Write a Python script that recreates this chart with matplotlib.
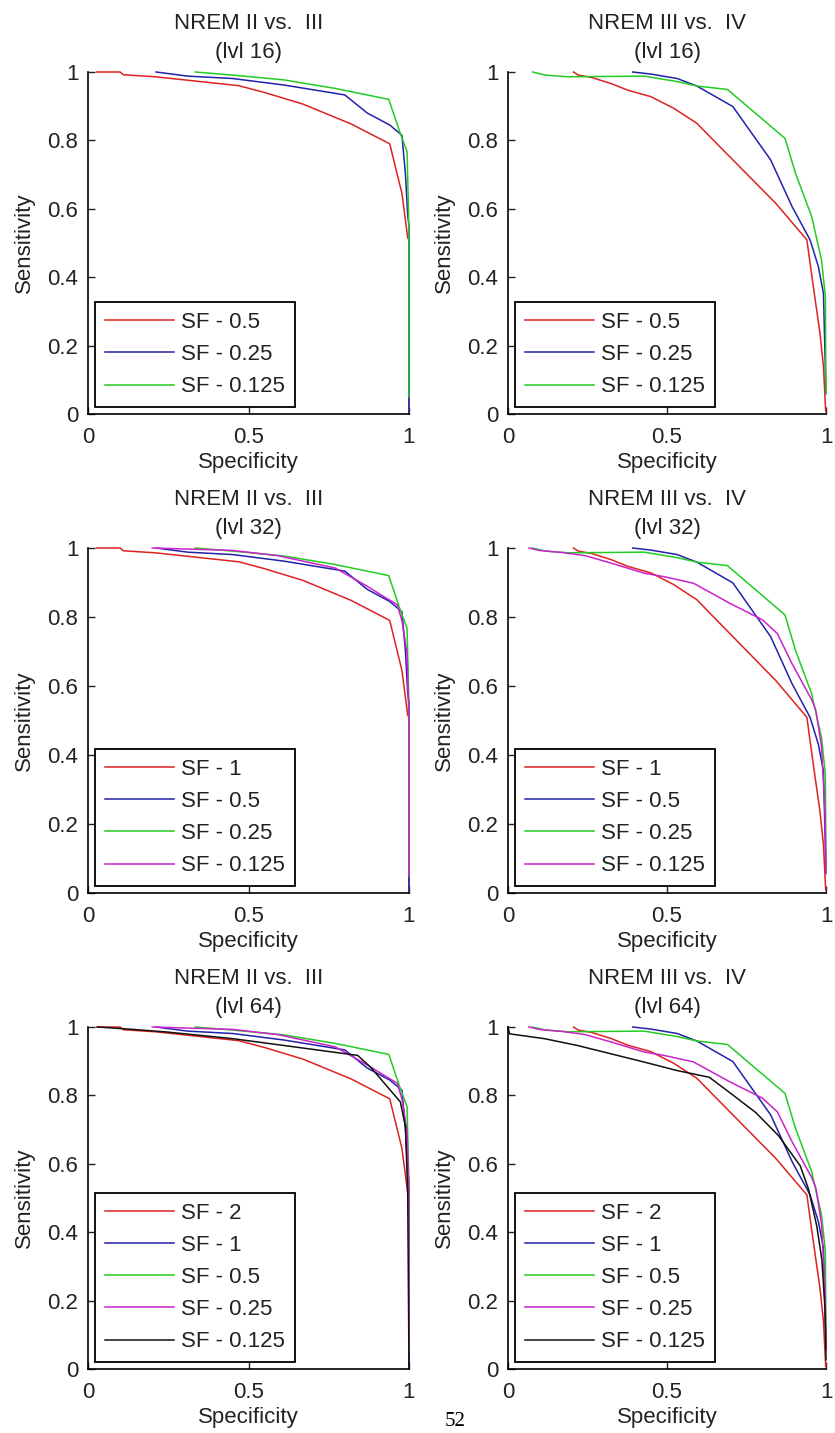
import matplotlib
matplotlib.use("Agg")
import matplotlib.pyplot as plt

plt.rcParams['font.family'] = ['Liberation Sans', 'DejaVu Sans']

# ---------------- data ----------------
# NREM II vs. III curves (specificity, sensitivity)
II_red_x = [0.027, 0.10, 0.11, 0.21, 0.35, 0.47, 0.55, 0.67, 0.82, 0.94, 0.978, 0.996, 1.0, 1.0]
II_red_y = [1.0, 1.0, 0.992, 0.986, 0.972, 0.960, 0.940, 0.906, 0.848, 0.790, 0.645, 0.515, 0.51, 0.0]
II_blue_x = [0.212, 0.31, 0.45, 0.61, 0.80, 0.87, 0.94, 0.978, 0.989, 0.996, 1.0, 1.0]
II_blue_y = [1.0, 0.988, 0.981, 0.962, 0.933, 0.880, 0.845, 0.815, 0.70, 0.58, 0.55, 0.0]
II_green_x = [0.334, 0.45, 0.61, 0.77, 0.937, 0.973, 0.994, 1.0, 1.0]
II_green_y = [1.0, 0.991, 0.977, 0.952, 0.920, 0.820, 0.767, 0.53, 0.05]
II_mag_x = [0.20, 0.45, 0.59, 0.77, 0.87, 0.92, 0.963, 0.978, 0.994, 1.0, 1.0]
II_mag_y = [1.0, 0.993, 0.978, 0.942, 0.889, 0.860, 0.836, 0.79, 0.695, 0.5, 0.05]
II_blk_x = [0.03, 0.14, 0.25, 0.45, 0.61, 0.84, 0.88, 0.973, 0.989, 0.996, 1.0]
II_blk_y = [1.0, 0.993, 0.985, 0.966, 0.946, 0.917, 0.883, 0.781, 0.708, 0.513, 0.0]

# NREM III vs. IV curves
III_red_x = [0.206, 0.221, 0.263, 0.325, 0.376, 0.449, 0.521, 0.594, 0.635, 0.738, 0.842, 0.94, 0.95, 0.966, 0.981, 0.992, 0.999]
III_red_y = [1.0, 0.991, 0.984, 0.966, 0.947, 0.928, 0.894, 0.850, 0.811, 0.714, 0.616, 0.509, 0.44, 0.334, 0.237, 0.139, 0.008]
III_blue_x = [0.392, 0.449, 0.532, 0.594, 0.707, 0.826, 0.893, 0.95, 0.976, 0.992, 1.0]
III_blue_y = [1.0, 0.994, 0.981, 0.959, 0.899, 0.743, 0.607, 0.509, 0.431, 0.353, 0.06]
III_green_x = [0.077, 0.118, 0.19, 0.428, 0.532, 0.594, 0.69, 0.871, 0.904, 0.955, 0.986, 0.998, 1.0]
III_green_y = [1.0, 0.991, 0.986, 0.988, 0.972, 0.959, 0.949, 0.806, 0.704, 0.577, 0.45, 0.344, 0.06]
III_mag_x = [0.066, 0.097, 0.17, 0.242, 0.325, 0.428, 0.49, 0.583, 0.697, 0.80, 0.847, 0.893, 0.955, 0.968, 0.986, 0.997, 1.0]
III_mag_y = [1.0, 0.993, 0.987, 0.978, 0.956, 0.927, 0.917, 0.898, 0.84, 0.792, 0.752, 0.665, 0.56, 0.53, 0.424, 0.23, 0.056]
III_blk_x = [0.0, 0.005, 0.114, 0.218, 0.322, 0.426, 0.53, 0.633, 0.696, 0.779, 0.851, 0.919, 0.945, 0.971, 0.987, 0.997, 1.0]
III_blk_y = [1.0, 0.98, 0.966, 0.946, 0.922, 0.898, 0.873, 0.853, 0.809, 0.75, 0.682, 0.594, 0.526, 0.418, 0.32, 0.174, 0.027]

titles = ["NREM II vs.  III\n(lvl 16)", "NREM III vs.  IV\n(lvl 16)",
          "NREM II vs.  III\n(lvl 32)", "NREM III vs.  IV\n(lvl 32)",
          "NREM II vs.  III\n(lvl 64)", "NREM III vs.  IV\n(lvl 64)"]
labels_16 = ["SF - 0.5", "SF - 0.25", "SF - 0.125"]
labels_32 = ["SF - 1", "SF - 0.5", "SF - 0.25", "SF - 0.125"]
labels_64 = ["SF - 2", "SF - 1", "SF - 0.5", "SF - 0.25", "SF - 0.125"]
colors = ['#dd2222', '#2222aa', '#22cc22', '#cc22cc', '#111111']
x_ticks = [0, 0.5, 1]
x_ticklabels = ["0", "0.5", "1"]
y_ticks = [0, 0.2, 0.4, 0.6, 0.8, 1]
y_ticklabels = ["0", "0.2", "0.4", "0.6", "0.8", "1"]

II_curves = [(II_red_x, II_red_y), (II_blue_x, II_blue_y), (II_green_x, II_green_y),
             (II_mag_x, II_mag_y), (II_blk_x, II_blk_y)]
III_curves = [(III_red_x, III_red_y), (III_blue_x, III_blue_y), (III_green_x, III_green_y),
              (III_mag_x, III_mag_y), (III_blk_x, III_blk_y)]

panels = [
    (II_curves[:3], labels_16), (III_curves[:3], labels_16),
    (II_curves[:4], labels_32), (III_curves[:4], labels_32),
    (II_curves[:5], labels_64), (III_curves[:5], labels_64),
]

# ---------------- figure ----------------
W, H = 835, 1433
fig = plt.figure(figsize=(W / 100, H / 100), dpi=100)

col_left = [88, 508]
col_width = [321, 318]
row_top = [72, 548, 1027]
row_bot = [414, 893, 1369]

FS = 16
TXT = '#222222'
for i, (curves, labels) in enumerate(panels):
    r, c = divmod(i, 2)
    left = col_left[c] / W
    bottom = 1 - row_bot[r] / H
    width = col_width[c] / W
    height = (row_bot[r] - row_top[r]) / H
    ax = fig.add_axes([left, bottom, width, height])
    for (xs, ys), col, lab in zip(curves, colors, labels):
        ax.plot(xs, ys, color=col, lw=1.1, label=lab, clip_on=False)
    ax.set_xlim(0, 1)
    ax.set_ylim(0, 1)
    ax.set_xticks(x_ticks)
    ax.set_xticklabels(x_ticklabels)
    ax.set_yticks(y_ticks)
    ax.set_yticklabels(y_ticklabels)
    ax.spines['top'].set_visible(False)
    ax.spines['right'].set_visible(False)
    for s in ('left', 'bottom'):
        ax.spines[s].set_linewidth(1.2)
    ax.tick_params(direction='in', length=5, width=1, labelsize=FS, colors=TXT)
    ax.tick_params(axis='x', pad=9)
    ax.tick_params(axis='y', pad=7)
    ax.set_xlabel("Specificity", fontsize=FS, labelpad=3, color=TXT)
    ax.set_ylabel("Sensitivity", fontsize=FS, labelpad=9, color=TXT)
    ax.set_title(titles[i], fontsize=FS, linespacing=1.5, pad=10, color=TXT)
    leg = ax.legend(loc='lower left', bbox_to_anchor=(0.0, 0.0), fontsize=FS,
                    frameon=True, fancybox=False, framealpha=1, edgecolor='black',
                    handlelength=3.1, handletextpad=0.35, labelspacing=0.5,
                    borderpad=0.45, borderaxespad=0.3)
    leg.get_frame().set_linewidth(1.3)
    for t in leg.get_texts():
        t.set_color(TXT)

fig.text(455 / W, 2 / H, "52", fontsize=15, family='Liberation Serif',
         ha='center', va='bottom')

fig.savefig("out.png", dpi=100)
